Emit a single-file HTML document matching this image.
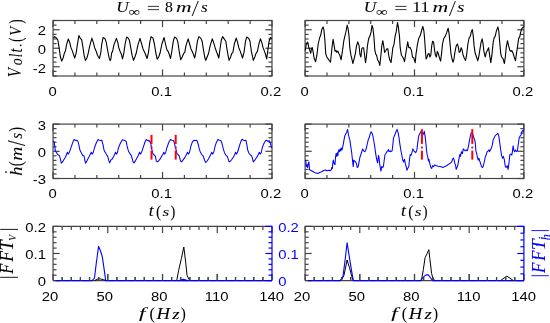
<!DOCTYPE html>
<html><head><meta charset="utf-8"><style>
html,body{margin:0;padding:0;background:#fff;overflow:hidden;}
svg{display:block;will-change:transform;}
</style></head><body>
<svg width="550" height="323" viewBox="0 0 550 323">
<rect width="550" height="323" fill="#fff"/>
<line x1="53.05" y1="76.00" x2="53.05" y2="69.40" stroke="#444" stroke-width="1.2" />
<line x1="53.05" y1="20.50" x2="53.05" y2="27.10" stroke="#444" stroke-width="1.2" />
<line x1="74.94" y1="76.00" x2="74.94" y2="72.50" stroke="#444" stroke-width="1.2" />
<line x1="74.94" y1="20.50" x2="74.94" y2="24.00" stroke="#444" stroke-width="1.2" />
<line x1="96.84" y1="76.00" x2="96.84" y2="72.50" stroke="#444" stroke-width="1.2" />
<line x1="96.84" y1="20.50" x2="96.84" y2="24.00" stroke="#444" stroke-width="1.2" />
<line x1="118.73" y1="76.00" x2="118.73" y2="72.50" stroke="#444" stroke-width="1.2" />
<line x1="118.73" y1="20.50" x2="118.73" y2="24.00" stroke="#444" stroke-width="1.2" />
<line x1="140.63" y1="76.00" x2="140.63" y2="72.50" stroke="#444" stroke-width="1.2" />
<line x1="140.63" y1="20.50" x2="140.63" y2="24.00" stroke="#444" stroke-width="1.2" />
<line x1="162.52" y1="76.00" x2="162.52" y2="69.40" stroke="#444" stroke-width="1.2" />
<line x1="162.52" y1="20.50" x2="162.52" y2="27.10" stroke="#444" stroke-width="1.2" />
<line x1="184.42" y1="76.00" x2="184.42" y2="72.50" stroke="#444" stroke-width="1.2" />
<line x1="184.42" y1="20.50" x2="184.42" y2="24.00" stroke="#444" stroke-width="1.2" />
<line x1="206.31" y1="76.00" x2="206.31" y2="72.50" stroke="#444" stroke-width="1.2" />
<line x1="206.31" y1="20.50" x2="206.31" y2="24.00" stroke="#444" stroke-width="1.2" />
<line x1="228.21" y1="76.00" x2="228.21" y2="72.50" stroke="#444" stroke-width="1.2" />
<line x1="228.21" y1="20.50" x2="228.21" y2="24.00" stroke="#444" stroke-width="1.2" />
<line x1="250.10" y1="76.00" x2="250.10" y2="72.50" stroke="#444" stroke-width="1.2" />
<line x1="250.10" y1="20.50" x2="250.10" y2="24.00" stroke="#444" stroke-width="1.2" />
<line x1="272.00" y1="76.00" x2="272.00" y2="69.40" stroke="#444" stroke-width="1.2" />
<line x1="272.00" y1="20.50" x2="272.00" y2="27.10" stroke="#444" stroke-width="1.2" />
<line x1="53.05" y1="76.00" x2="56.55" y2="76.00" stroke="#444" stroke-width="1.2" />
<line x1="272.00" y1="76.00" x2="268.50" y2="76.00" stroke="#444" stroke-width="1.2" />
<line x1="53.05" y1="71.38" x2="56.55" y2="71.38" stroke="#444" stroke-width="1.2" />
<line x1="272.00" y1="71.38" x2="268.50" y2="71.38" stroke="#444" stroke-width="1.2" />
<line x1="53.05" y1="66.75" x2="59.65" y2="66.75" stroke="#444" stroke-width="1.2" />
<line x1="272.00" y1="66.75" x2="265.40" y2="66.75" stroke="#444" stroke-width="1.2" />
<line x1="53.05" y1="62.12" x2="56.55" y2="62.12" stroke="#444" stroke-width="1.2" />
<line x1="272.00" y1="62.12" x2="268.50" y2="62.12" stroke="#444" stroke-width="1.2" />
<line x1="53.05" y1="57.50" x2="56.55" y2="57.50" stroke="#444" stroke-width="1.2" />
<line x1="272.00" y1="57.50" x2="268.50" y2="57.50" stroke="#444" stroke-width="1.2" />
<line x1="53.05" y1="52.88" x2="56.55" y2="52.88" stroke="#444" stroke-width="1.2" />
<line x1="272.00" y1="52.88" x2="268.50" y2="52.88" stroke="#444" stroke-width="1.2" />
<line x1="53.05" y1="48.25" x2="59.65" y2="48.25" stroke="#444" stroke-width="1.2" />
<line x1="272.00" y1="48.25" x2="265.40" y2="48.25" stroke="#444" stroke-width="1.2" />
<line x1="53.05" y1="43.62" x2="56.55" y2="43.62" stroke="#444" stroke-width="1.2" />
<line x1="272.00" y1="43.62" x2="268.50" y2="43.62" stroke="#444" stroke-width="1.2" />
<line x1="53.05" y1="39.00" x2="56.55" y2="39.00" stroke="#444" stroke-width="1.2" />
<line x1="272.00" y1="39.00" x2="268.50" y2="39.00" stroke="#444" stroke-width="1.2" />
<line x1="53.05" y1="34.38" x2="56.55" y2="34.38" stroke="#444" stroke-width="1.2" />
<line x1="272.00" y1="34.38" x2="268.50" y2="34.38" stroke="#444" stroke-width="1.2" />
<line x1="53.05" y1="29.75" x2="59.65" y2="29.75" stroke="#444" stroke-width="1.2" />
<line x1="272.00" y1="29.75" x2="265.40" y2="29.75" stroke="#444" stroke-width="1.2" />
<line x1="53.05" y1="25.12" x2="56.55" y2="25.12" stroke="#444" stroke-width="1.2" />
<line x1="272.00" y1="25.12" x2="268.50" y2="25.12" stroke="#444" stroke-width="1.2" />
<line x1="53.05" y1="20.50" x2="56.55" y2="20.50" stroke="#444" stroke-width="1.2" />
<line x1="272.00" y1="20.50" x2="268.50" y2="20.50" stroke="#444" stroke-width="1.2" />
<rect x="53.05" y="20.5" width="218.95" height="55.5" fill="none" stroke="#444" stroke-width="1.2"/>
<line x1="53.05" y1="178.50" x2="53.05" y2="171.90" stroke="#444" stroke-width="1.2" />
<line x1="53.05" y1="124.10" x2="53.05" y2="130.70" stroke="#444" stroke-width="1.2" />
<line x1="74.94" y1="178.50" x2="74.94" y2="175.00" stroke="#444" stroke-width="1.2" />
<line x1="74.94" y1="124.10" x2="74.94" y2="127.60" stroke="#444" stroke-width="1.2" />
<line x1="96.84" y1="178.50" x2="96.84" y2="175.00" stroke="#444" stroke-width="1.2" />
<line x1="96.84" y1="124.10" x2="96.84" y2="127.60" stroke="#444" stroke-width="1.2" />
<line x1="118.73" y1="178.50" x2="118.73" y2="175.00" stroke="#444" stroke-width="1.2" />
<line x1="118.73" y1="124.10" x2="118.73" y2="127.60" stroke="#444" stroke-width="1.2" />
<line x1="140.63" y1="178.50" x2="140.63" y2="175.00" stroke="#444" stroke-width="1.2" />
<line x1="140.63" y1="124.10" x2="140.63" y2="127.60" stroke="#444" stroke-width="1.2" />
<line x1="162.52" y1="178.50" x2="162.52" y2="171.90" stroke="#444" stroke-width="1.2" />
<line x1="162.52" y1="124.10" x2="162.52" y2="130.70" stroke="#444" stroke-width="1.2" />
<line x1="184.42" y1="178.50" x2="184.42" y2="175.00" stroke="#444" stroke-width="1.2" />
<line x1="184.42" y1="124.10" x2="184.42" y2="127.60" stroke="#444" stroke-width="1.2" />
<line x1="206.31" y1="178.50" x2="206.31" y2="175.00" stroke="#444" stroke-width="1.2" />
<line x1="206.31" y1="124.10" x2="206.31" y2="127.60" stroke="#444" stroke-width="1.2" />
<line x1="228.21" y1="178.50" x2="228.21" y2="175.00" stroke="#444" stroke-width="1.2" />
<line x1="228.21" y1="124.10" x2="228.21" y2="127.60" stroke="#444" stroke-width="1.2" />
<line x1="250.10" y1="178.50" x2="250.10" y2="175.00" stroke="#444" stroke-width="1.2" />
<line x1="250.10" y1="124.10" x2="250.10" y2="127.60" stroke="#444" stroke-width="1.2" />
<line x1="272.00" y1="178.50" x2="272.00" y2="171.90" stroke="#444" stroke-width="1.2" />
<line x1="272.00" y1="124.10" x2="272.00" y2="130.70" stroke="#444" stroke-width="1.2" />
<line x1="53.05" y1="178.50" x2="59.65" y2="178.50" stroke="#444" stroke-width="1.2" />
<line x1="272.00" y1="178.50" x2="265.40" y2="178.50" stroke="#444" stroke-width="1.2" />
<line x1="53.05" y1="173.97" x2="56.55" y2="173.97" stroke="#444" stroke-width="1.2" />
<line x1="272.00" y1="173.97" x2="268.50" y2="173.97" stroke="#444" stroke-width="1.2" />
<line x1="53.05" y1="169.43" x2="56.55" y2="169.43" stroke="#444" stroke-width="1.2" />
<line x1="272.00" y1="169.43" x2="268.50" y2="169.43" stroke="#444" stroke-width="1.2" />
<line x1="53.05" y1="164.90" x2="56.55" y2="164.90" stroke="#444" stroke-width="1.2" />
<line x1="272.00" y1="164.90" x2="268.50" y2="164.90" stroke="#444" stroke-width="1.2" />
<line x1="53.05" y1="160.37" x2="56.55" y2="160.37" stroke="#444" stroke-width="1.2" />
<line x1="272.00" y1="160.37" x2="268.50" y2="160.37" stroke="#444" stroke-width="1.2" />
<line x1="53.05" y1="155.83" x2="56.55" y2="155.83" stroke="#444" stroke-width="1.2" />
<line x1="272.00" y1="155.83" x2="268.50" y2="155.83" stroke="#444" stroke-width="1.2" />
<line x1="53.05" y1="151.30" x2="59.65" y2="151.30" stroke="#444" stroke-width="1.2" />
<line x1="272.00" y1="151.30" x2="265.40" y2="151.30" stroke="#444" stroke-width="1.2" />
<line x1="53.05" y1="146.77" x2="56.55" y2="146.77" stroke="#444" stroke-width="1.2" />
<line x1="272.00" y1="146.77" x2="268.50" y2="146.77" stroke="#444" stroke-width="1.2" />
<line x1="53.05" y1="142.23" x2="56.55" y2="142.23" stroke="#444" stroke-width="1.2" />
<line x1="272.00" y1="142.23" x2="268.50" y2="142.23" stroke="#444" stroke-width="1.2" />
<line x1="53.05" y1="137.70" x2="56.55" y2="137.70" stroke="#444" stroke-width="1.2" />
<line x1="272.00" y1="137.70" x2="268.50" y2="137.70" stroke="#444" stroke-width="1.2" />
<line x1="53.05" y1="133.17" x2="56.55" y2="133.17" stroke="#444" stroke-width="1.2" />
<line x1="272.00" y1="133.17" x2="268.50" y2="133.17" stroke="#444" stroke-width="1.2" />
<line x1="53.05" y1="128.63" x2="56.55" y2="128.63" stroke="#444" stroke-width="1.2" />
<line x1="272.00" y1="128.63" x2="268.50" y2="128.63" stroke="#444" stroke-width="1.2" />
<line x1="53.05" y1="124.10" x2="59.65" y2="124.10" stroke="#444" stroke-width="1.2" />
<line x1="272.00" y1="124.10" x2="265.40" y2="124.10" stroke="#444" stroke-width="1.2" />
<rect x="53.05" y="124.1" width="218.95" height="54.400000000000006" fill="none" stroke="#444" stroke-width="1.2"/>
<line x1="305.10" y1="76.00" x2="305.10" y2="69.40" stroke="#444" stroke-width="1.2" />
<line x1="305.10" y1="20.50" x2="305.10" y2="27.10" stroke="#444" stroke-width="1.2" />
<line x1="326.98" y1="76.00" x2="326.98" y2="72.50" stroke="#444" stroke-width="1.2" />
<line x1="326.98" y1="20.50" x2="326.98" y2="24.00" stroke="#444" stroke-width="1.2" />
<line x1="348.86" y1="76.00" x2="348.86" y2="72.50" stroke="#444" stroke-width="1.2" />
<line x1="348.86" y1="20.50" x2="348.86" y2="24.00" stroke="#444" stroke-width="1.2" />
<line x1="370.74" y1="76.00" x2="370.74" y2="72.50" stroke="#444" stroke-width="1.2" />
<line x1="370.74" y1="20.50" x2="370.74" y2="24.00" stroke="#444" stroke-width="1.2" />
<line x1="392.62" y1="76.00" x2="392.62" y2="72.50" stroke="#444" stroke-width="1.2" />
<line x1="392.62" y1="20.50" x2="392.62" y2="24.00" stroke="#444" stroke-width="1.2" />
<line x1="414.50" y1="76.00" x2="414.50" y2="69.40" stroke="#444" stroke-width="1.2" />
<line x1="414.50" y1="20.50" x2="414.50" y2="27.10" stroke="#444" stroke-width="1.2" />
<line x1="436.38" y1="76.00" x2="436.38" y2="72.50" stroke="#444" stroke-width="1.2" />
<line x1="436.38" y1="20.50" x2="436.38" y2="24.00" stroke="#444" stroke-width="1.2" />
<line x1="458.26" y1="76.00" x2="458.26" y2="72.50" stroke="#444" stroke-width="1.2" />
<line x1="458.26" y1="20.50" x2="458.26" y2="24.00" stroke="#444" stroke-width="1.2" />
<line x1="480.14" y1="76.00" x2="480.14" y2="72.50" stroke="#444" stroke-width="1.2" />
<line x1="480.14" y1="20.50" x2="480.14" y2="24.00" stroke="#444" stroke-width="1.2" />
<line x1="502.02" y1="76.00" x2="502.02" y2="72.50" stroke="#444" stroke-width="1.2" />
<line x1="502.02" y1="20.50" x2="502.02" y2="24.00" stroke="#444" stroke-width="1.2" />
<line x1="523.90" y1="76.00" x2="523.90" y2="69.40" stroke="#444" stroke-width="1.2" />
<line x1="523.90" y1="20.50" x2="523.90" y2="27.10" stroke="#444" stroke-width="1.2" />
<line x1="305.10" y1="76.00" x2="308.60" y2="76.00" stroke="#444" stroke-width="1.2" />
<line x1="523.90" y1="76.00" x2="520.40" y2="76.00" stroke="#444" stroke-width="1.2" />
<line x1="305.10" y1="71.38" x2="308.60" y2="71.38" stroke="#444" stroke-width="1.2" />
<line x1="523.90" y1="71.38" x2="520.40" y2="71.38" stroke="#444" stroke-width="1.2" />
<line x1="305.10" y1="66.75" x2="311.70" y2="66.75" stroke="#444" stroke-width="1.2" />
<line x1="523.90" y1="66.75" x2="517.30" y2="66.75" stroke="#444" stroke-width="1.2" />
<line x1="305.10" y1="62.12" x2="308.60" y2="62.12" stroke="#444" stroke-width="1.2" />
<line x1="523.90" y1="62.12" x2="520.40" y2="62.12" stroke="#444" stroke-width="1.2" />
<line x1="305.10" y1="57.50" x2="308.60" y2="57.50" stroke="#444" stroke-width="1.2" />
<line x1="523.90" y1="57.50" x2="520.40" y2="57.50" stroke="#444" stroke-width="1.2" />
<line x1="305.10" y1="52.88" x2="308.60" y2="52.88" stroke="#444" stroke-width="1.2" />
<line x1="523.90" y1="52.88" x2="520.40" y2="52.88" stroke="#444" stroke-width="1.2" />
<line x1="305.10" y1="48.25" x2="311.70" y2="48.25" stroke="#444" stroke-width="1.2" />
<line x1="523.90" y1="48.25" x2="517.30" y2="48.25" stroke="#444" stroke-width="1.2" />
<line x1="305.10" y1="43.62" x2="308.60" y2="43.62" stroke="#444" stroke-width="1.2" />
<line x1="523.90" y1="43.62" x2="520.40" y2="43.62" stroke="#444" stroke-width="1.2" />
<line x1="305.10" y1="39.00" x2="308.60" y2="39.00" stroke="#444" stroke-width="1.2" />
<line x1="523.90" y1="39.00" x2="520.40" y2="39.00" stroke="#444" stroke-width="1.2" />
<line x1="305.10" y1="34.38" x2="308.60" y2="34.38" stroke="#444" stroke-width="1.2" />
<line x1="523.90" y1="34.38" x2="520.40" y2="34.38" stroke="#444" stroke-width="1.2" />
<line x1="305.10" y1="29.75" x2="311.70" y2="29.75" stroke="#444" stroke-width="1.2" />
<line x1="523.90" y1="29.75" x2="517.30" y2="29.75" stroke="#444" stroke-width="1.2" />
<line x1="305.10" y1="25.12" x2="308.60" y2="25.12" stroke="#444" stroke-width="1.2" />
<line x1="523.90" y1="25.12" x2="520.40" y2="25.12" stroke="#444" stroke-width="1.2" />
<line x1="305.10" y1="20.50" x2="308.60" y2="20.50" stroke="#444" stroke-width="1.2" />
<line x1="523.90" y1="20.50" x2="520.40" y2="20.50" stroke="#444" stroke-width="1.2" />
<rect x="305.1" y="20.5" width="218.79999999999995" height="55.5" fill="none" stroke="#444" stroke-width="1.2"/>
<line x1="305.10" y1="178.50" x2="305.10" y2="171.90" stroke="#444" stroke-width="1.2" />
<line x1="305.10" y1="124.10" x2="305.10" y2="130.70" stroke="#444" stroke-width="1.2" />
<line x1="326.98" y1="178.50" x2="326.98" y2="175.00" stroke="#444" stroke-width="1.2" />
<line x1="326.98" y1="124.10" x2="326.98" y2="127.60" stroke="#444" stroke-width="1.2" />
<line x1="348.86" y1="178.50" x2="348.86" y2="175.00" stroke="#444" stroke-width="1.2" />
<line x1="348.86" y1="124.10" x2="348.86" y2="127.60" stroke="#444" stroke-width="1.2" />
<line x1="370.74" y1="178.50" x2="370.74" y2="175.00" stroke="#444" stroke-width="1.2" />
<line x1="370.74" y1="124.10" x2="370.74" y2="127.60" stroke="#444" stroke-width="1.2" />
<line x1="392.62" y1="178.50" x2="392.62" y2="175.00" stroke="#444" stroke-width="1.2" />
<line x1="392.62" y1="124.10" x2="392.62" y2="127.60" stroke="#444" stroke-width="1.2" />
<line x1="414.50" y1="178.50" x2="414.50" y2="171.90" stroke="#444" stroke-width="1.2" />
<line x1="414.50" y1="124.10" x2="414.50" y2="130.70" stroke="#444" stroke-width="1.2" />
<line x1="436.38" y1="178.50" x2="436.38" y2="175.00" stroke="#444" stroke-width="1.2" />
<line x1="436.38" y1="124.10" x2="436.38" y2="127.60" stroke="#444" stroke-width="1.2" />
<line x1="458.26" y1="178.50" x2="458.26" y2="175.00" stroke="#444" stroke-width="1.2" />
<line x1="458.26" y1="124.10" x2="458.26" y2="127.60" stroke="#444" stroke-width="1.2" />
<line x1="480.14" y1="178.50" x2="480.14" y2="175.00" stroke="#444" stroke-width="1.2" />
<line x1="480.14" y1="124.10" x2="480.14" y2="127.60" stroke="#444" stroke-width="1.2" />
<line x1="502.02" y1="178.50" x2="502.02" y2="175.00" stroke="#444" stroke-width="1.2" />
<line x1="502.02" y1="124.10" x2="502.02" y2="127.60" stroke="#444" stroke-width="1.2" />
<line x1="523.90" y1="178.50" x2="523.90" y2="171.90" stroke="#444" stroke-width="1.2" />
<line x1="523.90" y1="124.10" x2="523.90" y2="130.70" stroke="#444" stroke-width="1.2" />
<line x1="305.10" y1="178.50" x2="311.70" y2="178.50" stroke="#444" stroke-width="1.2" />
<line x1="523.90" y1="178.50" x2="517.30" y2="178.50" stroke="#444" stroke-width="1.2" />
<line x1="305.10" y1="173.97" x2="308.60" y2="173.97" stroke="#444" stroke-width="1.2" />
<line x1="523.90" y1="173.97" x2="520.40" y2="173.97" stroke="#444" stroke-width="1.2" />
<line x1="305.10" y1="169.43" x2="308.60" y2="169.43" stroke="#444" stroke-width="1.2" />
<line x1="523.90" y1="169.43" x2="520.40" y2="169.43" stroke="#444" stroke-width="1.2" />
<line x1="305.10" y1="164.90" x2="308.60" y2="164.90" stroke="#444" stroke-width="1.2" />
<line x1="523.90" y1="164.90" x2="520.40" y2="164.90" stroke="#444" stroke-width="1.2" />
<line x1="305.10" y1="160.37" x2="308.60" y2="160.37" stroke="#444" stroke-width="1.2" />
<line x1="523.90" y1="160.37" x2="520.40" y2="160.37" stroke="#444" stroke-width="1.2" />
<line x1="305.10" y1="155.83" x2="308.60" y2="155.83" stroke="#444" stroke-width="1.2" />
<line x1="523.90" y1="155.83" x2="520.40" y2="155.83" stroke="#444" stroke-width="1.2" />
<line x1="305.10" y1="151.30" x2="311.70" y2="151.30" stroke="#444" stroke-width="1.2" />
<line x1="523.90" y1="151.30" x2="517.30" y2="151.30" stroke="#444" stroke-width="1.2" />
<line x1="305.10" y1="146.77" x2="308.60" y2="146.77" stroke="#444" stroke-width="1.2" />
<line x1="523.90" y1="146.77" x2="520.40" y2="146.77" stroke="#444" stroke-width="1.2" />
<line x1="305.10" y1="142.23" x2="308.60" y2="142.23" stroke="#444" stroke-width="1.2" />
<line x1="523.90" y1="142.23" x2="520.40" y2="142.23" stroke="#444" stroke-width="1.2" />
<line x1="305.10" y1="137.70" x2="308.60" y2="137.70" stroke="#444" stroke-width="1.2" />
<line x1="523.90" y1="137.70" x2="520.40" y2="137.70" stroke="#444" stroke-width="1.2" />
<line x1="305.10" y1="133.17" x2="308.60" y2="133.17" stroke="#444" stroke-width="1.2" />
<line x1="523.90" y1="133.17" x2="520.40" y2="133.17" stroke="#444" stroke-width="1.2" />
<line x1="305.10" y1="128.63" x2="308.60" y2="128.63" stroke="#444" stroke-width="1.2" />
<line x1="523.90" y1="128.63" x2="520.40" y2="128.63" stroke="#444" stroke-width="1.2" />
<line x1="305.10" y1="124.10" x2="311.70" y2="124.10" stroke="#444" stroke-width="1.2" />
<line x1="523.90" y1="124.10" x2="517.30" y2="124.10" stroke="#444" stroke-width="1.2" />
<rect x="305.1" y="124.1" width="218.79999999999995" height="54.400000000000006" fill="none" stroke="#444" stroke-width="1.2"/>
<line x1="53.05" y1="280.60" x2="53.05" y2="274.00" stroke="#444" stroke-width="1.2" />
<line x1="53.05" y1="226.40" x2="53.05" y2="233.00" stroke="#444" stroke-width="1.2" />
<line x1="62.17" y1="280.60" x2="62.17" y2="277.10" stroke="#444" stroke-width="1.2" />
<line x1="62.17" y1="226.40" x2="62.17" y2="229.90" stroke="#444" stroke-width="1.2" />
<line x1="71.30" y1="280.60" x2="71.30" y2="277.10" stroke="#444" stroke-width="1.2" />
<line x1="71.30" y1="226.40" x2="71.30" y2="229.90" stroke="#444" stroke-width="1.2" />
<line x1="80.42" y1="280.60" x2="80.42" y2="277.10" stroke="#444" stroke-width="1.2" />
<line x1="80.42" y1="226.40" x2="80.42" y2="229.90" stroke="#444" stroke-width="1.2" />
<line x1="89.54" y1="280.60" x2="89.54" y2="277.10" stroke="#444" stroke-width="1.2" />
<line x1="89.54" y1="226.40" x2="89.54" y2="229.90" stroke="#444" stroke-width="1.2" />
<line x1="98.66" y1="280.60" x2="98.66" y2="277.10" stroke="#444" stroke-width="1.2" />
<line x1="98.66" y1="226.40" x2="98.66" y2="229.90" stroke="#444" stroke-width="1.2" />
<line x1="107.79" y1="280.60" x2="107.79" y2="274.00" stroke="#444" stroke-width="1.2" />
<line x1="107.79" y1="226.40" x2="107.79" y2="233.00" stroke="#444" stroke-width="1.2" />
<line x1="116.91" y1="280.60" x2="116.91" y2="277.10" stroke="#444" stroke-width="1.2" />
<line x1="116.91" y1="226.40" x2="116.91" y2="229.90" stroke="#444" stroke-width="1.2" />
<line x1="126.03" y1="280.60" x2="126.03" y2="277.10" stroke="#444" stroke-width="1.2" />
<line x1="126.03" y1="226.40" x2="126.03" y2="229.90" stroke="#444" stroke-width="1.2" />
<line x1="135.16" y1="280.60" x2="135.16" y2="277.10" stroke="#444" stroke-width="1.2" />
<line x1="135.16" y1="226.40" x2="135.16" y2="229.90" stroke="#444" stroke-width="1.2" />
<line x1="144.28" y1="280.60" x2="144.28" y2="277.10" stroke="#444" stroke-width="1.2" />
<line x1="144.28" y1="226.40" x2="144.28" y2="229.90" stroke="#444" stroke-width="1.2" />
<line x1="153.40" y1="280.60" x2="153.40" y2="277.10" stroke="#444" stroke-width="1.2" />
<line x1="153.40" y1="226.40" x2="153.40" y2="229.90" stroke="#444" stroke-width="1.2" />
<line x1="162.52" y1="280.60" x2="162.52" y2="274.00" stroke="#444" stroke-width="1.2" />
<line x1="162.52" y1="226.40" x2="162.52" y2="233.00" stroke="#444" stroke-width="1.2" />
<line x1="171.65" y1="280.60" x2="171.65" y2="277.10" stroke="#444" stroke-width="1.2" />
<line x1="171.65" y1="226.40" x2="171.65" y2="229.90" stroke="#444" stroke-width="1.2" />
<line x1="180.77" y1="280.60" x2="180.77" y2="277.10" stroke="#444" stroke-width="1.2" />
<line x1="180.77" y1="226.40" x2="180.77" y2="229.90" stroke="#444" stroke-width="1.2" />
<line x1="189.89" y1="280.60" x2="189.89" y2="277.10" stroke="#444" stroke-width="1.2" />
<line x1="189.89" y1="226.40" x2="189.89" y2="229.90" stroke="#444" stroke-width="1.2" />
<line x1="199.02" y1="280.60" x2="199.02" y2="277.10" stroke="#444" stroke-width="1.2" />
<line x1="199.02" y1="226.40" x2="199.02" y2="229.90" stroke="#444" stroke-width="1.2" />
<line x1="208.14" y1="280.60" x2="208.14" y2="277.10" stroke="#444" stroke-width="1.2" />
<line x1="208.14" y1="226.40" x2="208.14" y2="229.90" stroke="#444" stroke-width="1.2" />
<line x1="217.26" y1="280.60" x2="217.26" y2="274.00" stroke="#444" stroke-width="1.2" />
<line x1="217.26" y1="226.40" x2="217.26" y2="233.00" stroke="#444" stroke-width="1.2" />
<line x1="226.39" y1="280.60" x2="226.39" y2="277.10" stroke="#444" stroke-width="1.2" />
<line x1="226.39" y1="226.40" x2="226.39" y2="229.90" stroke="#444" stroke-width="1.2" />
<line x1="235.51" y1="280.60" x2="235.51" y2="277.10" stroke="#444" stroke-width="1.2" />
<line x1="235.51" y1="226.40" x2="235.51" y2="229.90" stroke="#444" stroke-width="1.2" />
<line x1="244.63" y1="280.60" x2="244.63" y2="277.10" stroke="#444" stroke-width="1.2" />
<line x1="244.63" y1="226.40" x2="244.63" y2="229.90" stroke="#444" stroke-width="1.2" />
<line x1="253.75" y1="280.60" x2="253.75" y2="277.10" stroke="#444" stroke-width="1.2" />
<line x1="253.75" y1="226.40" x2="253.75" y2="229.90" stroke="#444" stroke-width="1.2" />
<line x1="262.88" y1="280.60" x2="262.88" y2="277.10" stroke="#444" stroke-width="1.2" />
<line x1="262.88" y1="226.40" x2="262.88" y2="229.90" stroke="#444" stroke-width="1.2" />
<line x1="272.00" y1="280.60" x2="272.00" y2="274.00" stroke="#444" stroke-width="1.2" />
<line x1="272.00" y1="226.40" x2="272.00" y2="233.00" stroke="#444" stroke-width="1.2" />
<line x1="53.05" y1="280.60" x2="59.65" y2="280.60" stroke="#444" stroke-width="1.2" />
<line x1="53.05" y1="275.18" x2="56.55" y2="275.18" stroke="#444" stroke-width="1.2" />
<line x1="53.05" y1="269.76" x2="56.55" y2="269.76" stroke="#444" stroke-width="1.2" />
<line x1="53.05" y1="264.34" x2="56.55" y2="264.34" stroke="#444" stroke-width="1.2" />
<line x1="53.05" y1="258.92" x2="56.55" y2="258.92" stroke="#444" stroke-width="1.2" />
<line x1="53.05" y1="253.50" x2="59.65" y2="253.50" stroke="#444" stroke-width="1.2" />
<line x1="53.05" y1="248.08" x2="56.55" y2="248.08" stroke="#444" stroke-width="1.2" />
<line x1="53.05" y1="242.66" x2="56.55" y2="242.66" stroke="#444" stroke-width="1.2" />
<line x1="53.05" y1="237.24" x2="56.55" y2="237.24" stroke="#444" stroke-width="1.2" />
<line x1="53.05" y1="231.82" x2="56.55" y2="231.82" stroke="#444" stroke-width="1.2" />
<line x1="53.05" y1="226.40" x2="59.65" y2="226.40" stroke="#444" stroke-width="1.2" />
<line x1="272.00" y1="280.60" x2="265.40" y2="280.60" stroke="#0000ff" stroke-width="1.2" />
<line x1="272.00" y1="275.18" x2="268.50" y2="275.18" stroke="#0000ff" stroke-width="1.2" />
<line x1="272.00" y1="269.76" x2="268.50" y2="269.76" stroke="#0000ff" stroke-width="1.2" />
<line x1="272.00" y1="264.34" x2="268.50" y2="264.34" stroke="#0000ff" stroke-width="1.2" />
<line x1="272.00" y1="258.92" x2="268.50" y2="258.92" stroke="#0000ff" stroke-width="1.2" />
<line x1="272.00" y1="253.50" x2="265.40" y2="253.50" stroke="#0000ff" stroke-width="1.2" />
<line x1="272.00" y1="248.08" x2="268.50" y2="248.08" stroke="#0000ff" stroke-width="1.2" />
<line x1="272.00" y1="242.66" x2="268.50" y2="242.66" stroke="#0000ff" stroke-width="1.2" />
<line x1="272.00" y1="237.24" x2="268.50" y2="237.24" stroke="#0000ff" stroke-width="1.2" />
<line x1="272.00" y1="231.82" x2="268.50" y2="231.82" stroke="#0000ff" stroke-width="1.2" />
<line x1="272.00" y1="226.40" x2="265.40" y2="226.40" stroke="#0000ff" stroke-width="1.2" />
<line x1="53.05" y1="226.40" x2="53.05" y2="280.60" stroke="#444" stroke-width="1.2" />
<line x1="52.55" y1="226.40" x2="265.00" y2="226.40" stroke="#444" stroke-width="1.2" />
<line x1="265.00" y1="226.40" x2="272.50" y2="226.40" stroke="#0000ff" stroke-width="1.2" />
<line x1="272.00" y1="226.40" x2="272.00" y2="280.60" stroke="#0000ff" stroke-width="1.2" />
<line x1="53.05" y1="280.60" x2="272.00" y2="280.60" stroke="#444" stroke-width="1.2" />
<line x1="305.10" y1="280.60" x2="305.10" y2="274.00" stroke="#444" stroke-width="1.2" />
<line x1="305.10" y1="226.40" x2="305.10" y2="233.00" stroke="#444" stroke-width="1.2" />
<line x1="314.22" y1="280.60" x2="314.22" y2="277.10" stroke="#444" stroke-width="1.2" />
<line x1="314.22" y1="226.40" x2="314.22" y2="229.90" stroke="#444" stroke-width="1.2" />
<line x1="323.33" y1="280.60" x2="323.33" y2="277.10" stroke="#444" stroke-width="1.2" />
<line x1="323.33" y1="226.40" x2="323.33" y2="229.90" stroke="#444" stroke-width="1.2" />
<line x1="332.45" y1="280.60" x2="332.45" y2="277.10" stroke="#444" stroke-width="1.2" />
<line x1="332.45" y1="226.40" x2="332.45" y2="229.90" stroke="#444" stroke-width="1.2" />
<line x1="341.57" y1="280.60" x2="341.57" y2="277.10" stroke="#444" stroke-width="1.2" />
<line x1="341.57" y1="226.40" x2="341.57" y2="229.90" stroke="#444" stroke-width="1.2" />
<line x1="350.68" y1="280.60" x2="350.68" y2="277.10" stroke="#444" stroke-width="1.2" />
<line x1="350.68" y1="226.40" x2="350.68" y2="229.90" stroke="#444" stroke-width="1.2" />
<line x1="359.80" y1="280.60" x2="359.80" y2="274.00" stroke="#444" stroke-width="1.2" />
<line x1="359.80" y1="226.40" x2="359.80" y2="233.00" stroke="#444" stroke-width="1.2" />
<line x1="368.92" y1="280.60" x2="368.92" y2="277.10" stroke="#444" stroke-width="1.2" />
<line x1="368.92" y1="226.40" x2="368.92" y2="229.90" stroke="#444" stroke-width="1.2" />
<line x1="378.03" y1="280.60" x2="378.03" y2="277.10" stroke="#444" stroke-width="1.2" />
<line x1="378.03" y1="226.40" x2="378.03" y2="229.90" stroke="#444" stroke-width="1.2" />
<line x1="387.15" y1="280.60" x2="387.15" y2="277.10" stroke="#444" stroke-width="1.2" />
<line x1="387.15" y1="226.40" x2="387.15" y2="229.90" stroke="#444" stroke-width="1.2" />
<line x1="396.27" y1="280.60" x2="396.27" y2="277.10" stroke="#444" stroke-width="1.2" />
<line x1="396.27" y1="226.40" x2="396.27" y2="229.90" stroke="#444" stroke-width="1.2" />
<line x1="405.38" y1="280.60" x2="405.38" y2="277.10" stroke="#444" stroke-width="1.2" />
<line x1="405.38" y1="226.40" x2="405.38" y2="229.90" stroke="#444" stroke-width="1.2" />
<line x1="414.50" y1="280.60" x2="414.50" y2="274.00" stroke="#444" stroke-width="1.2" />
<line x1="414.50" y1="226.40" x2="414.50" y2="233.00" stroke="#444" stroke-width="1.2" />
<line x1="423.62" y1="280.60" x2="423.62" y2="277.10" stroke="#444" stroke-width="1.2" />
<line x1="423.62" y1="226.40" x2="423.62" y2="229.90" stroke="#444" stroke-width="1.2" />
<line x1="432.73" y1="280.60" x2="432.73" y2="277.10" stroke="#444" stroke-width="1.2" />
<line x1="432.73" y1="226.40" x2="432.73" y2="229.90" stroke="#444" stroke-width="1.2" />
<line x1="441.85" y1="280.60" x2="441.85" y2="277.10" stroke="#444" stroke-width="1.2" />
<line x1="441.85" y1="226.40" x2="441.85" y2="229.90" stroke="#444" stroke-width="1.2" />
<line x1="450.97" y1="280.60" x2="450.97" y2="277.10" stroke="#444" stroke-width="1.2" />
<line x1="450.97" y1="226.40" x2="450.97" y2="229.90" stroke="#444" stroke-width="1.2" />
<line x1="460.08" y1="280.60" x2="460.08" y2="277.10" stroke="#444" stroke-width="1.2" />
<line x1="460.08" y1="226.40" x2="460.08" y2="229.90" stroke="#444" stroke-width="1.2" />
<line x1="469.20" y1="280.60" x2="469.20" y2="274.00" stroke="#444" stroke-width="1.2" />
<line x1="469.20" y1="226.40" x2="469.20" y2="233.00" stroke="#444" stroke-width="1.2" />
<line x1="478.32" y1="280.60" x2="478.32" y2="277.10" stroke="#444" stroke-width="1.2" />
<line x1="478.32" y1="226.40" x2="478.32" y2="229.90" stroke="#444" stroke-width="1.2" />
<line x1="487.43" y1="280.60" x2="487.43" y2="277.10" stroke="#444" stroke-width="1.2" />
<line x1="487.43" y1="226.40" x2="487.43" y2="229.90" stroke="#444" stroke-width="1.2" />
<line x1="496.55" y1="280.60" x2="496.55" y2="277.10" stroke="#444" stroke-width="1.2" />
<line x1="496.55" y1="226.40" x2="496.55" y2="229.90" stroke="#444" stroke-width="1.2" />
<line x1="505.67" y1="280.60" x2="505.67" y2="277.10" stroke="#444" stroke-width="1.2" />
<line x1="505.67" y1="226.40" x2="505.67" y2="229.90" stroke="#444" stroke-width="1.2" />
<line x1="514.78" y1="280.60" x2="514.78" y2="277.10" stroke="#444" stroke-width="1.2" />
<line x1="514.78" y1="226.40" x2="514.78" y2="229.90" stroke="#444" stroke-width="1.2" />
<line x1="523.90" y1="280.60" x2="523.90" y2="274.00" stroke="#444" stroke-width="1.2" />
<line x1="523.90" y1="226.40" x2="523.90" y2="233.00" stroke="#444" stroke-width="1.2" />
<line x1="305.10" y1="280.60" x2="311.70" y2="280.60" stroke="#444" stroke-width="1.2" />
<line x1="305.10" y1="275.18" x2="308.60" y2="275.18" stroke="#444" stroke-width="1.2" />
<line x1="305.10" y1="269.76" x2="308.60" y2="269.76" stroke="#444" stroke-width="1.2" />
<line x1="305.10" y1="264.34" x2="308.60" y2="264.34" stroke="#444" stroke-width="1.2" />
<line x1="305.10" y1="258.92" x2="308.60" y2="258.92" stroke="#444" stroke-width="1.2" />
<line x1="305.10" y1="253.50" x2="311.70" y2="253.50" stroke="#444" stroke-width="1.2" />
<line x1="305.10" y1="248.08" x2="308.60" y2="248.08" stroke="#444" stroke-width="1.2" />
<line x1="305.10" y1="242.66" x2="308.60" y2="242.66" stroke="#444" stroke-width="1.2" />
<line x1="305.10" y1="237.24" x2="308.60" y2="237.24" stroke="#444" stroke-width="1.2" />
<line x1="305.10" y1="231.82" x2="308.60" y2="231.82" stroke="#444" stroke-width="1.2" />
<line x1="305.10" y1="226.40" x2="311.70" y2="226.40" stroke="#444" stroke-width="1.2" />
<line x1="523.90" y1="280.60" x2="517.30" y2="280.60" stroke="#0000ff" stroke-width="1.2" />
<line x1="523.90" y1="273.83" x2="520.40" y2="273.83" stroke="#0000ff" stroke-width="1.2" />
<line x1="523.90" y1="267.05" x2="520.40" y2="267.05" stroke="#0000ff" stroke-width="1.2" />
<line x1="523.90" y1="260.28" x2="520.40" y2="260.28" stroke="#0000ff" stroke-width="1.2" />
<line x1="523.90" y1="253.50" x2="517.30" y2="253.50" stroke="#0000ff" stroke-width="1.2" />
<line x1="523.90" y1="246.73" x2="520.40" y2="246.73" stroke="#0000ff" stroke-width="1.2" />
<line x1="523.90" y1="239.95" x2="520.40" y2="239.95" stroke="#0000ff" stroke-width="1.2" />
<line x1="523.90" y1="233.18" x2="520.40" y2="233.18" stroke="#0000ff" stroke-width="1.2" />
<line x1="523.90" y1="226.40" x2="517.30" y2="226.40" stroke="#0000ff" stroke-width="1.2" />
<line x1="305.10" y1="226.40" x2="305.10" y2="280.60" stroke="#444" stroke-width="1.2" />
<line x1="304.60" y1="226.40" x2="516.90" y2="226.40" stroke="#444" stroke-width="1.2" />
<line x1="516.90" y1="226.40" x2="524.40" y2="226.40" stroke="#0000ff" stroke-width="1.2" />
<line x1="523.90" y1="226.40" x2="523.90" y2="280.60" stroke="#0000ff" stroke-width="1.2" />
<line x1="305.10" y1="280.60" x2="523.90" y2="280.60" stroke="#444" stroke-width="1.2" />
<polyline points="53.5,38.1 54.8,36.6 56.6,38.1 57.9,40.3 59.1,47.7 60.4,57.0 61.7,61.1 63.1,58.0 64.3,53.3 65.4,51.1 66.5,44.9 68.3,39.0 69.6,42.1 70.9,47.4 72.4,51.1 73.4,54.2 74.7,58.0 76.1,53.3 77.5,44.0 78.9,35.6 80.2,38.1 81.7,39.9 83.0,47.7 84.1,55.2 85.4,60.4 86.9,58.0 88.2,53.3 89.5,46.8 91.9,38.1 93.2,42.1 94.7,47.7 96.2,51.4 97.5,55.2 99.4,58.5 100.7,53.3 101.8,44.0 103.1,37.5 104.9,38.4 106.2,42.1 107.7,50.5 109.0,57.4 110.1,60.7 110.8,59.5 111.7,52.9 112.6,51.4 113.9,44.9 116.4,38.4 117.7,42.1 118.8,47.7 120.1,51.4 121.4,54.2 122.5,58.9 123.8,53.3 125.1,44.0 126.6,37.0 128.1,38.1 129.4,40.3 130.7,47.7 132.1,55.2 133.5,60.4 134.9,57.0 136.2,53.3 137.7,45.9 140.0,38.4 141.4,43.1 142.9,48.7 144.2,51.4 145.5,54.2 147.0,58.5 148.5,52.4 149.8,42.1 151.1,36.6 153.0,38.1 154.4,44.0 155.9,53.3 157.2,59.2 158.5,57.4 160.0,53.3 161.9,44.0 164.1,37.5 165.5,44.0 166.8,49.6 168.1,51.4 169.2,54.2 170.5,58.5 171.8,51.4 173.3,41.2 174.6,37.0 176.6,38.4 177.9,42.1 179.2,51.4 180.7,59.8 182.2,57.0 183.5,53.7 184.8,52.4 185.9,45.9 188.1,38.8 189.6,44.0 190.9,48.7 192.2,51.4 193.4,54.2 194.7,58.0 196.0,51.4 197.4,41.2 198.9,36.6 200.8,38.1 202.1,41.2 203.4,49.6 204.9,58.0 205.8,60.4 207.1,57.0 208.6,53.3 210.1,45.9 212.3,38.8 213.8,43.1 215.1,47.7 216.4,51.4 217.5,54.2 218.8,58.0 220.2,47.7 221.3,40.3 222.6,36.6 224.5,39.4 225.8,41.2 226.9,48.7 228.2,56.1 229.1,60.4 230.6,57.0 231.9,53.3 232.9,52.4 234.3,44.0 236.2,38.1 237.5,42.1 238.8,47.7 240.3,51.4 241.2,54.2 242.5,58.0 244.0,52.4 245.5,41.2 246.8,37.0 248.7,38.4 250.0,41.2 251.4,51.4 253.3,60.4 254.8,57.0 256.1,53.3 257.4,51.4 258.9,44.0 260.4,38.8 261.7,42.1 263.0,47.4 264.4,51.1 265.4,54.2 266.7,58.9 267.8,50.5 269.1,41.2 270.4,37.5 271.9,38.4" fill="none" stroke="#000" stroke-width="1.1" stroke-linejoin="round" />
<polyline points="305.2,50.5 306.3,44.0 307.6,42.1 308.9,47.7 310.1,51.4 310.8,53.3 311.4,48.7 312.3,47.7 313.2,52.4 314.1,58.0 315.6,61.7 316.9,55.2 318.2,44.0 319.7,37.5 320.6,35.6 321.9,29.1 323.1,26.9 323.8,29.1 324.9,40.3 325.7,53.3 326.8,57.0 328.1,58.9 329.4,60.7 330.5,62.2 331.2,55.2 332.4,44.0 333.1,39.4 334.2,45.9 335.0,51.4 336.1,50.5 336.8,52.4 337.9,51.1 338.7,53.3 339.8,55.2 341.1,59.8 342.4,51.4 343.9,40.3 344.8,36.6 346.1,31.0 347.2,25.1 348.0,28.2 349.1,36.6 349.8,47.7 350.9,55.2 351.7,58.0 352.8,63.5 354.1,58.9 355.4,53.3 356.5,45.9 357.8,41.8 359.1,45.9 359.9,54.2 360.9,57.0 361.8,48.7 362.7,47.7 363.6,47.7 364.6,55.2 365.5,62.6 366.4,57.0 367.4,45.9 368.7,38.4 370.1,35.6 371.1,31.9 372.0,25.4 372.9,28.2 373.9,36.6 374.8,49.6 375.7,54.2 376.6,55.2 377.6,59.8 379.1,62.6 379.8,65.4 380.9,55.2 381.8,45.9 382.8,40.7 383.7,45.9 384.6,52.4 385.9,50.5 386.9,48.7 387.8,48.7 388.7,55.2 389.7,59.8 391.0,62.6 392.1,54.2 392.8,47.7 393.9,44.9 395.2,35.6 396.2,31.9 397.5,22.6 398.4,27.3 399.5,36.6 400.2,47.7 401.4,55.2 402.7,57.0 403.6,58.9 404.5,61.7 405.4,56.1 406.4,49.6 407.7,41.8 408.8,47.7 410.1,47.4 411.4,50.5 412.5,57.0 413.8,58.0 415.2,62.8 415.9,55.2 417.2,45.9 418.7,38.4 420.2,35.6 421.5,31.0 422.8,26.4 423.9,31.0 424.7,40.3 425.6,53.3 426.1,58.9 427.1,57.0 428.0,54.2 428.9,53.3 429.9,57.0 430.8,55.2 431.7,45.9 432.6,41.2 433.6,42.1 434.5,49.6 435.4,55.2 436.4,57.0 437.3,51.4 438.2,53.3 439.5,58.0 440.6,61.1 441.6,53.3 442.5,44.0 443.8,38.4 445.1,36.6 446.6,32.9 448.1,28.2 449.0,32.9 449.9,42.1 450.9,53.3 452.2,59.8 453.1,62.2 454.0,58.9 454.9,52.4 456.2,45.9 457.4,44.0 458.3,46.8 459.2,52.4 460.1,51.8 461.1,47.7 462.0,49.6 462.9,54.2 464.2,58.0 465.5,60.4 466.6,55.2 467.9,44.0 469.2,37.5 470.4,36.2 471.5,31.0 472.4,29.6 473.3,36.6 474.1,45.9 475.2,53.3 476.5,57.0 477.8,60.7 478.9,56.1 480.2,47.7 481.1,42.1 482.1,38.8 483.0,43.1 483.9,51.4 485.2,57.0 486.3,52.4 487.3,50.5 488.6,47.7 489.5,54.2 490.8,62.6 491.9,55.2 493.2,42.1 494.2,37.5 495.1,36.6 496.4,31.0 497.9,26.9 498.8,31.0 499.7,42.1 500.7,53.3 501.6,57.0 503.1,58.9 504.4,63.5 505.3,57.0 506.2,47.7 507.5,40.7 508.6,45.9 509.9,50.5 510.9,51.4 511.8,50.5 513.1,53.3 514.2,57.0 515.5,60.7 516.4,54.2 517.6,45.9 518.7,38.4 519.8,36.6 520.5,32.9 521.6,29.1 522.9,27.3 523.9,26.9" fill="none" stroke="#000" stroke-width="1.1" stroke-linejoin="round" />
<polyline points="53.5,140.6 54.2,142.4 54.8,146.1 55.3,150.8 56.6,152.7 57.6,154.5 58.5,155.1 59.4,155.4 60.4,159.2 61.3,163.2 62.8,161.4 64.1,159.2 65.4,157.3 67.4,152.3 68.2,154.1 69.3,152.5 70.2,149.9 71.5,146.1 72.8,142.4 73.9,139.6 75.2,140.2 76.1,140.6 77.1,140.2 78.0,141.5 78.9,145.2 79.9,149.9 80.8,151.7 81.7,153.6 82.7,155.4 84.0,155.8 84.7,159.2 85.4,163.2 86.4,161.9 87.7,159.2 89.2,156.4 90.6,153.6 91.4,152.3 92.2,154.1 93.3,152.5 94.4,148.0 95.7,144.3 97.0,141.5 98.1,139.6 99.4,140.2 100.7,140.6 101.8,140.2 103.1,145.2 104.0,149.9 104.9,151.7 105.9,153.6 106.8,155.1 107.7,156.4 108.7,160.1 109.6,162.9 110.5,161.0 111.4,159.2 112.1,159.2 113.6,156.4 115.6,152.3 116.4,154.1 117.5,152.5 118.2,148.9 119.5,145.2 121.0,142.1 122.5,139.8 123.8,140.2 125.1,140.6 126.2,141.5 126.9,145.2 128.1,149.9 128.8,151.7 129.9,153.6 131.2,155.4 132.1,158.2 133.1,161.9 134.0,162.9 135.5,160.6 136.8,158.2 138.1,155.8 139.6,152.3 140.4,154.1 141.5,152.5 142.4,149.9 143.3,147.1 144.2,144.3 145.2,141.5 146.1,139.6 147.4,140.2 148.5,140.9 149.2,140.6 150.4,142.4 151.1,145.2 151.7,148.9 152.6,152.7 153.5,154.5 154.4,155.1 155.4,156.4 156.3,161.0 157.2,161.9 158.5,161.0 160.0,159.2 161.5,156.4 162.8,154.5 163.8,152.3 164.6,154.1 165.7,152.5 166.8,148.0 168.1,144.3 169.2,141.5 170.5,139.6 171.8,140.2 173.3,140.6 174.2,142.4 175.1,146.1 176.1,149.9 177.0,153.6 177.9,154.5 178.9,155.4 179.8,158.2 180.7,161.4 181.6,161.9 182.9,160.1 184.4,158.2 185.9,155.4 187.6,152.3 188.4,154.1 189.5,152.5 190.9,146.1 192.2,142.4 193.7,140.2 195.2,140.6 196.5,140.2 197.4,141.5 198.4,145.2 199.3,148.9 200.2,151.7 201.2,153.6 202.1,155.1 203.0,155.8 203.9,158.2 204.9,161.0 205.8,162.5 207.1,161.0 208.6,158.8 210.1,155.8 211.8,152.3 212.6,154.1 213.7,152.5 215.1,146.1 216.4,142.4 217.9,139.6 219.5,140.2 220.8,140.6 221.7,142.4 222.6,146.1 223.6,149.9 224.5,152.7 225.8,155.1 227.3,156.4 228.2,159.2 229.1,161.9 230.6,161.0 231.9,159.2 233.2,157.3 234.3,155.4 235.6,152.3 236.4,154.1 237.5,152.5 238.8,148.0 239.9,144.3 241.2,140.6 242.1,139.3 243.6,140.2 244.9,140.6 245.9,140.2 246.8,144.3 247.7,149.9 248.7,152.7 249.6,154.0 250.5,155.1 251.4,155.4 252.4,158.2 253.3,161.9 254.8,160.1 256.1,158.2 257.4,156.4 258.5,154.0 259.4,152.3 260.2,154.1 261.3,152.5 262.2,148.0 263.5,144.3 264.8,142.1 265.9,140.2 267.2,140.6 268.2,141.5 269.1,140.6 270.0,142.4 270.9,145.2 271.9,148.0" fill="none" stroke="#0000ff" stroke-width="1.05" stroke-linejoin="round" />
<polyline points="305.2,160.1 305.8,161.0 306.3,166.6 307.1,165.7 307.6,167.5 308.2,163.8 308.9,161.9 309.5,169.4 310.4,170.3 312.3,171.2 314.1,172.2 316.0,173.1 317.9,173.5 319.7,172.5 321.6,171.8 323.4,170.7 325.3,169.9 327.2,170.7 329.0,170.3 330.5,170.7 331.2,169.9 331.8,167.5 332.4,168.4 332.7,163.8 333.3,160.1 334.2,163.8 335.0,164.7 335.5,157.3 336.1,153.6 336.8,156.4 337.4,152.7 337.9,155.4 338.3,151.7 338.9,149.9 339.6,151.7 340.2,148.9 340.7,150.8 341.3,148.0 342.0,149.9 342.9,146.1 343.9,140.6 344.8,135.9 345.7,134.1 346.7,132.2 347.6,129.4 348.5,135.0 349.4,138.7 350.0,140.6 350.7,146.1 351.7,152.7 352.4,159.2 353.2,166.6 353.7,160.1 354.6,161.0 355.6,161.9 356.5,163.8 357.2,167.5 358.2,166.6 359.1,161.9 359.9,157.3 360.9,154.5 361.8,151.7 362.7,148.9 363.6,150.8 364.6,151.7 365.5,150.8 366.4,148.0 367.4,143.4 368.3,139.6 369.2,137.8 370.1,134.1 371.1,131.7 372.0,133.1 372.9,135.9 373.9,141.5 374.8,147.1 375.7,153.6 376.6,159.2 377.6,162.9 378.5,155.4 379.1,158.2 379.8,164.7 380.9,171.2 381.7,166.6 382.8,167.5 383.5,165.7 384.1,161.0 385.0,154.5 385.9,153.6 386.9,151.7 387.8,150.8 388.4,149.5 389.1,151.7 390.2,150.8 391.0,151.7 392.1,150.8 392.8,145.2 393.4,138.7 394.3,135.9 395.2,134.1 396.2,131.3 397.1,129.4 398.0,132.2 398.9,136.9 399.9,144.3 400.8,149.9 401.7,154.5 402.7,160.1 403.6,161.9 404.5,159.2 405.4,163.8 406.4,167.5 406.9,170.3 407.7,168.4 408.8,166.6 409.5,159.2 410.3,154.5 411.0,155.4 411.9,152.7 412.9,148.9 413.8,150.8 414.7,151.7 415.7,152.7 416.9,149.9 417.8,142.4 418.7,135.9 419.6,134.1 420.6,132.2 421.5,130.9 422.4,133.1 423.4,134.1 424.3,131.3 425.2,136.9 425.8,142.4 426.5,149.9 427.1,154.5 428.0,158.2 428.4,161.0 428.9,159.2 429.9,163.8 430.8,167.5 431.7,168.4 432.6,165.7 433.6,166.6 434.5,165.1 436.4,165.7 438.2,166.2 440.1,166.6 441.9,167.1 442.9,167.5 444.7,166.6 446.6,165.7 448.4,164.4 450.3,163.2 451.8,161.9 452.5,159.2 453.5,158.2 454.4,161.0 454.9,163.8 455.5,164.7 456.2,169.4 457.4,166.6 458.1,163.8 459.2,157.3 460.0,154.5 460.5,156.4 461.4,151.7 462.4,153.6 463.3,148.9 464.2,149.9 465.2,150.8 466.1,149.9 467.4,150.8 468.5,146.1 469.4,140.6 470.4,135.9 470.9,133.5 471.9,132.2 472.8,134.1 473.7,137.8 474.6,139.6 475.2,142.4 475.9,150.8 476.7,153.6 477.4,157.3 478.2,160.1 478.9,158.2 479.7,161.0 480.4,162.9 481.5,166.6 482.6,167.5 483.4,165.7 484.5,161.0 485.2,157.3 486.3,154.5 487.1,151.7 488.2,150.8 488.9,149.9 489.5,151.7 490.4,149.9 491.4,148.0 492.3,145.2 493.2,139.6 494.2,137.8 495.1,135.9 496.0,135.0 496.9,134.1 497.9,133.5 498.8,135.9 499.7,142.4 500.7,149.9 501.6,155.4 502.5,158.2 503.4,156.4 504.4,160.1 505.3,166.6 506.2,167.5 507.2,165.7 508.1,169.4 509.0,162.9 509.9,154.5 510.9,154.0 511.8,155.1 512.4,151.7 513.1,145.8 513.8,149.9 514.6,151.7 515.5,149.9 516.4,151.4 517.4,150.8 518.3,144.3 519.2,137.8 520.2,135.9 521.1,135.0 522.0,131.3 522.9,130.4 523.9,132.2" fill="none" stroke="#0000ff" stroke-width="1.05" stroke-linejoin="round" />
<line x1="151.5" y1="134.9" x2="151.5" y2="143.9" stroke="#ff0000" stroke-width="2"/>
<line x1="151.5" y1="146.6" x2="151.5" y2="148.4" stroke="#ff0000" stroke-width="2"/>
<line x1="151.5" y1="150.7" x2="151.5" y2="159.6" stroke="#ff0000" stroke-width="2"/>
<line x1="175.7" y1="134.9" x2="175.7" y2="143.9" stroke="#ff0000" stroke-width="2"/>
<line x1="175.7" y1="146.6" x2="175.7" y2="148.4" stroke="#ff0000" stroke-width="2"/>
<line x1="175.7" y1="150.7" x2="175.7" y2="159.6" stroke="#ff0000" stroke-width="2"/>
<line x1="421.9" y1="129.2" x2="421.9" y2="143.9" stroke="#ff0000" stroke-width="2"/>
<line x1="421.9" y1="146.6" x2="421.9" y2="148.4" stroke="#ff0000" stroke-width="2"/>
<line x1="421.9" y1="150.7" x2="421.9" y2="159.6" stroke="#ff0000" stroke-width="2"/>
<line x1="472.3" y1="129.2" x2="472.3" y2="143.9" stroke="#ff0000" stroke-width="2"/>
<line x1="472.3" y1="146.6" x2="472.3" y2="148.4" stroke="#ff0000" stroke-width="2"/>
<line x1="472.3" y1="150.7" x2="472.3" y2="159.6" stroke="#ff0000" stroke-width="2"/>
<polyline points="94.5,280.6 98.6,278.6 100.5,279.0 103.5,279.6 105.7,280.6" fill="none" stroke="#000" stroke-width="1.0" stroke-linejoin="round" />
<polyline points="176.7,280.6 178.6,270.6 181.4,258.5 183.8,247.0 185.7,262.2 187.0,275.2 188.3,278.0 189.8,280.6" fill="none" stroke="#000" stroke-width="1.0" stroke-linejoin="round" />
<polyline points="55.5,280.6 92.1,280.6 94.5,278.0 96.4,262.2 98.6,246.4 100.5,251.0 102.3,256.6 104.2,269.7 105.7,280.6 272.0,280.6" fill="none" stroke="#0000ff" stroke-width="1.1" stroke-linejoin="round" />
<polyline points="179.0,280.6 183.3,279.3 187.5,280.6" fill="none" stroke="#0000ff" stroke-width="1.1" stroke-linejoin="round" />
<polyline points="341.2,280.6 344.0,275.2 347.1,260.0 349.5,267.8 352.0,277.1 353.3,280.6" fill="none" stroke="#000" stroke-width="1.0" stroke-linejoin="round" />
<polyline points="421.4,280.6 423.3,269.7 425.1,257.6 427.0,253.8 428.8,249.7 429.8,258.5 431.6,273.4 433.1,279.0 435.3,280.6" fill="none" stroke="#000" stroke-width="1.0" stroke-linejoin="round" />
<polyline points="500.4,280.6 506.9,276.1 513.4,280.6" fill="none" stroke="#000" stroke-width="1.0" stroke-linejoin="round" />
<polyline points="307.9,280.6 340.2,280.6 343.0,276.2 345.3,258.5 347.1,242.7 349.0,254.8 351.4,269.7 353.3,280.6 420.5,280.6 423.3,277.1 426.0,274.9 428.3,274.9 430.7,278.0 432.6,280.6 524.0,280.6" fill="none" stroke="#0000ff" stroke-width="1.1" stroke-linejoin="round" />
<line x1="62.17" y1="280.60" x2="62.17" y2="277.10" stroke="#444" stroke-width="1.2" />
<line x1="71.30" y1="280.60" x2="71.30" y2="277.10" stroke="#444" stroke-width="1.2" />
<line x1="80.42" y1="280.60" x2="80.42" y2="277.10" stroke="#444" stroke-width="1.2" />
<line x1="89.54" y1="280.60" x2="89.54" y2="277.10" stroke="#444" stroke-width="1.2" />
<line x1="98.66" y1="280.60" x2="98.66" y2="277.10" stroke="#444" stroke-width="1.2" />
<line x1="107.79" y1="280.60" x2="107.79" y2="274.00" stroke="#444" stroke-width="1.2" />
<line x1="116.91" y1="280.60" x2="116.91" y2="277.10" stroke="#444" stroke-width="1.2" />
<line x1="126.03" y1="280.60" x2="126.03" y2="277.10" stroke="#444" stroke-width="1.2" />
<line x1="135.16" y1="280.60" x2="135.16" y2="277.10" stroke="#444" stroke-width="1.2" />
<line x1="144.28" y1="280.60" x2="144.28" y2="277.10" stroke="#444" stroke-width="1.2" />
<line x1="153.40" y1="280.60" x2="153.40" y2="277.10" stroke="#444" stroke-width="1.2" />
<line x1="162.52" y1="280.60" x2="162.52" y2="274.00" stroke="#444" stroke-width="1.2" />
<line x1="171.65" y1="280.60" x2="171.65" y2="277.10" stroke="#444" stroke-width="1.2" />
<line x1="180.77" y1="280.60" x2="180.77" y2="277.10" stroke="#444" stroke-width="1.2" />
<line x1="189.89" y1="280.60" x2="189.89" y2="277.10" stroke="#444" stroke-width="1.2" />
<line x1="199.02" y1="280.60" x2="199.02" y2="277.10" stroke="#444" stroke-width="1.2" />
<line x1="208.14" y1="280.60" x2="208.14" y2="277.10" stroke="#444" stroke-width="1.2" />
<line x1="217.26" y1="280.60" x2="217.26" y2="274.00" stroke="#444" stroke-width="1.2" />
<line x1="226.39" y1="280.60" x2="226.39" y2="277.10" stroke="#444" stroke-width="1.2" />
<line x1="235.51" y1="280.60" x2="235.51" y2="277.10" stroke="#444" stroke-width="1.2" />
<line x1="244.63" y1="280.60" x2="244.63" y2="277.10" stroke="#444" stroke-width="1.2" />
<line x1="253.75" y1="280.60" x2="253.75" y2="277.10" stroke="#444" stroke-width="1.2" />
<line x1="262.88" y1="280.60" x2="262.88" y2="277.10" stroke="#444" stroke-width="1.2" />
<line x1="314.22" y1="280.60" x2="314.22" y2="277.10" stroke="#444" stroke-width="1.2" />
<line x1="323.33" y1="280.60" x2="323.33" y2="277.10" stroke="#444" stroke-width="1.2" />
<line x1="332.45" y1="280.60" x2="332.45" y2="277.10" stroke="#444" stroke-width="1.2" />
<line x1="341.57" y1="280.60" x2="341.57" y2="277.10" stroke="#444" stroke-width="1.2" />
<line x1="350.68" y1="280.60" x2="350.68" y2="277.10" stroke="#444" stroke-width="1.2" />
<line x1="359.80" y1="280.60" x2="359.80" y2="274.00" stroke="#444" stroke-width="1.2" />
<line x1="368.92" y1="280.60" x2="368.92" y2="277.10" stroke="#444" stroke-width="1.2" />
<line x1="378.03" y1="280.60" x2="378.03" y2="277.10" stroke="#444" stroke-width="1.2" />
<line x1="387.15" y1="280.60" x2="387.15" y2="277.10" stroke="#444" stroke-width="1.2" />
<line x1="396.27" y1="280.60" x2="396.27" y2="277.10" stroke="#444" stroke-width="1.2" />
<line x1="405.38" y1="280.60" x2="405.38" y2="277.10" stroke="#444" stroke-width="1.2" />
<line x1="414.50" y1="280.60" x2="414.50" y2="274.00" stroke="#444" stroke-width="1.2" />
<line x1="423.62" y1="280.60" x2="423.62" y2="277.10" stroke="#444" stroke-width="1.2" />
<line x1="432.73" y1="280.60" x2="432.73" y2="277.10" stroke="#444" stroke-width="1.2" />
<line x1="441.85" y1="280.60" x2="441.85" y2="277.10" stroke="#444" stroke-width="1.2" />
<line x1="450.97" y1="280.60" x2="450.97" y2="277.10" stroke="#444" stroke-width="1.2" />
<line x1="460.08" y1="280.60" x2="460.08" y2="277.10" stroke="#444" stroke-width="1.2" />
<line x1="469.20" y1="280.60" x2="469.20" y2="274.00" stroke="#444" stroke-width="1.2" />
<line x1="478.32" y1="280.60" x2="478.32" y2="277.10" stroke="#444" stroke-width="1.2" />
<line x1="487.43" y1="280.60" x2="487.43" y2="277.10" stroke="#444" stroke-width="1.2" />
<line x1="496.55" y1="280.60" x2="496.55" y2="277.10" stroke="#444" stroke-width="1.2" />
<line x1="505.67" y1="280.60" x2="505.67" y2="277.10" stroke="#444" stroke-width="1.2" />
<line x1="514.78" y1="280.60" x2="514.78" y2="277.10" stroke="#444" stroke-width="1.2" />
<text transform="translate(48.41,96.20) scale(1.1,1)" font-family="Liberation Sans" font-size="13.5" fill="#000" stroke="#000" stroke-width="0">0</text>
<text transform="translate(48.41,198.20) scale(1.1,1)" font-family="Liberation Sans" font-size="13.5" fill="#000" stroke="#000" stroke-width="0">0</text>
<text transform="translate(151.31,96.20) scale(1.1,1)" font-family="Liberation Sans" font-size="13.5" fill="#000" stroke="#000" stroke-width="0">0.1</text>
<text transform="translate(151.31,198.20) scale(1.1,1)" font-family="Liberation Sans" font-size="13.5" fill="#000" stroke="#000" stroke-width="0">0.1</text>
<text transform="translate(260.51,96.20) scale(1.1,1)" font-family="Liberation Sans" font-size="13.5" fill="#000" stroke="#000" stroke-width="0">0.2</text>
<text transform="translate(260.51,198.20) scale(1.1,1)" font-family="Liberation Sans" font-size="13.5" fill="#000" stroke="#000" stroke-width="0">0.2</text>
<text transform="translate(41.76,301.00) scale(1.1,1)" font-family="Liberation Sans" font-size="13.5" fill="#000" stroke="#000" stroke-width="0">20</text>
<text transform="translate(96.41,301.00) scale(1.1,1)" font-family="Liberation Sans" font-size="13.5" fill="#000" stroke="#000" stroke-width="0">50</text>
<text transform="translate(150.91,301.00) scale(1.1,1)" font-family="Liberation Sans" font-size="13.5" fill="#000" stroke="#000" stroke-width="0">80</text>
<text transform="translate(204.81,301.00) scale(1.1,1)" font-family="Liberation Sans" font-size="13.5" fill="#000" stroke="#000" stroke-width="0">110</text>
<text transform="translate(259.31,301.00) scale(1.1,1)" font-family="Liberation Sans" font-size="13.5" fill="#000" stroke="#000" stroke-width="0">140</text>
<text transform="translate(300.41,96.20) scale(1.1,1)" font-family="Liberation Sans" font-size="13.5" fill="#000" stroke="#000" stroke-width="0">0</text>
<text transform="translate(300.41,198.20) scale(1.1,1)" font-family="Liberation Sans" font-size="13.5" fill="#000" stroke="#000" stroke-width="0">0</text>
<text transform="translate(403.31,96.20) scale(1.1,1)" font-family="Liberation Sans" font-size="13.5" fill="#000" stroke="#000" stroke-width="0">0.1</text>
<text transform="translate(403.31,198.20) scale(1.1,1)" font-family="Liberation Sans" font-size="13.5" fill="#000" stroke="#000" stroke-width="0">0.1</text>
<text transform="translate(512.51,96.20) scale(1.1,1)" font-family="Liberation Sans" font-size="13.5" fill="#000" stroke="#000" stroke-width="0">0.2</text>
<text transform="translate(512.51,198.20) scale(1.1,1)" font-family="Liberation Sans" font-size="13.5" fill="#000" stroke="#000" stroke-width="0">0.2</text>
<text transform="translate(293.76,301.00) scale(1.1,1)" font-family="Liberation Sans" font-size="13.5" fill="#000" stroke="#000" stroke-width="0">20</text>
<text transform="translate(348.41,301.00) scale(1.1,1)" font-family="Liberation Sans" font-size="13.5" fill="#000" stroke="#000" stroke-width="0">50</text>
<text transform="translate(402.91,301.00) scale(1.1,1)" font-family="Liberation Sans" font-size="13.5" fill="#000" stroke="#000" stroke-width="0">80</text>
<text transform="translate(456.81,301.00) scale(1.1,1)" font-family="Liberation Sans" font-size="13.5" fill="#000" stroke="#000" stroke-width="0">110</text>
<text transform="translate(511.31,301.00) scale(1.1,1)" font-family="Liberation Sans" font-size="13.5" fill="#000" stroke="#000" stroke-width="0">140</text>
<text transform="translate(46.00,35.30) scale(1.1,1)" font-family="Liberation Sans" font-size="13.5" fill="#000" stroke="#000" stroke-width="0" text-anchor="end">2</text>
<text transform="translate(46.00,54.20) scale(1.1,1)" font-family="Liberation Sans" font-size="13.5" fill="#000" stroke="#000" stroke-width="0" text-anchor="end">0</text>
<text transform="translate(46.00,72.60) scale(1.1,1)" font-family="Liberation Sans" font-size="13.5" fill="#000" stroke="#000" stroke-width="0" text-anchor="end">-2</text>
<text transform="translate(46.00,129.50) scale(1.1,1)" font-family="Liberation Sans" font-size="13.5" fill="#000" stroke="#000" stroke-width="0" text-anchor="end">3</text>
<text transform="translate(46.00,156.50) scale(1.1,1)" font-family="Liberation Sans" font-size="13.5" fill="#000" stroke="#000" stroke-width="0" text-anchor="end">0</text>
<text transform="translate(46.00,183.70) scale(1.1,1)" font-family="Liberation Sans" font-size="13.5" fill="#000" stroke="#000" stroke-width="0" text-anchor="end">-3</text>
<text transform="translate(46.00,231.60) scale(1.1,1)" font-family="Liberation Sans" font-size="13.5" fill="#000" stroke="#000" stroke-width="0" text-anchor="end">0.2</text>
<text transform="translate(46.00,259.10) scale(1.1,1)" font-family="Liberation Sans" font-size="13.5" fill="#000" stroke="#000" stroke-width="0" text-anchor="end">0.1</text>
<text transform="translate(46.00,286.40) scale(1.1,1)" font-family="Liberation Sans" font-size="13.5" fill="#000" stroke="#000" stroke-width="0" text-anchor="end">0</text>
<text transform="translate(278.21,231.60) scale(1.1,1)" font-family="Liberation Sans" font-size="13.5" fill="#0000ff" stroke="#0000ff" stroke-width="0">0.2</text>
<text transform="translate(278.21,259.10) scale(1.1,1)" font-family="Liberation Sans" font-size="13.5" fill="#0000ff" stroke="#0000ff" stroke-width="0">0.1</text>
<text transform="translate(278.21,286.40) scale(1.1,1)" font-family="Liberation Sans" font-size="13.5" fill="#0000ff" stroke="#0000ff" stroke-width="0">0</text>
<text transform="translate(116.32,11.77) scale(1.1263,1)" font-family="Liberation Serif" font-style="italic" font-size="15.36" fill="#000" stroke="#000" stroke-width="0.06">U</text>
<text transform="translate(128.54,15.87) scale(1.2903,1)" font-family="Liberation Serif" font-style="normal" font-size="12.47" fill="#000" stroke="#000" stroke-width="0.06">∞</text>
<line x1="147.80" y1="6.40" x2="159.00" y2="6.40" stroke="#222" stroke-width="0.9" />
<line x1="147.80" y1="9.60" x2="159.00" y2="9.60" stroke="#222" stroke-width="0.9" />
<text transform="translate(165.05,11.63) scale(1.0875,1)" font-family="Liberation Serif" font-style="normal" font-size="14.54" fill="#000" stroke="#000" stroke-width="0.06">8</text>
<text transform="translate(363.82,11.77) scale(1.1263,1)" font-family="Liberation Serif" font-style="italic" font-size="15.36" fill="#000" stroke="#000" stroke-width="0.06">U</text>
<text transform="translate(376.04,15.87) scale(1.2903,1)" font-family="Liberation Serif" font-style="normal" font-size="12.47" fill="#000" stroke="#000" stroke-width="0.06">∞</text>
<line x1="395.30" y1="6.40" x2="406.50" y2="6.40" stroke="#222" stroke-width="0.9" />
<line x1="395.30" y1="9.60" x2="406.50" y2="9.60" stroke="#222" stroke-width="0.9" />
<text transform="translate(412.28,11.92) scale(1.2080,1)" font-family="Liberation Serif" font-style="normal" font-size="14.76" fill="#000" stroke="#000" stroke-width="0.06">11</text>
<text transform="translate(175.92,11.92) scale(1.5429,1)" font-family="Liberation Serif" font-style="italic" font-size="13.91" fill="#000" stroke="#000" stroke-width="0.06">m</text>
<text transform="translate(432.61,11.92) scale(1.5653,1)" font-family="Liberation Serif" font-style="italic" font-size="13.91" fill="#000" stroke="#000" stroke-width="0.06">m</text>
<text transform="translate(192.48,15.69) scale(0.7595,1)" font-family="Liberation Serif" font-style="italic" font-size="23.09" fill="#000" stroke="#000" stroke-width="0.06">/</text>
<text transform="translate(449.66,15.69) scale(0.7373,1)" font-family="Liberation Serif" font-style="italic" font-size="23.09" fill="#000" stroke="#000" stroke-width="0.06">/</text>
<text transform="translate(201.11,11.78) scale(1.2666,1)" font-family="Liberation Serif" font-style="italic" font-size="13.62" fill="#000" stroke="#000" stroke-width="0.06">s</text>
<text transform="translate(457.30,11.78) scale(1.3295,1)" font-family="Liberation Serif" font-style="italic" font-size="13.62" fill="#000" stroke="#000" stroke-width="0.06">s</text>
<text transform="translate(148.77,216.05) scale(1.0776,1)" font-family="Liberation Serif" font-style="italic" font-size="16.56" fill="#000" stroke="#000" stroke-width="0.06">t</text>
<text transform="translate(155.96,216.76) scale(0.9176,1)" font-family="Liberation Serif" font-style="normal" font-size="16.93" fill="#000" stroke="#000" stroke-width="0.06">(</text>
<text transform="translate(162.61,216.10) scale(1.4687,1)" font-family="Liberation Serif" font-style="italic" font-size="11.75" fill="#000" stroke="#000" stroke-width="0.06">s</text>
<text transform="translate(170.45,216.76) scale(0.8495,1)" font-family="Liberation Serif" font-style="normal" font-size="16.93" fill="#000" stroke="#000" stroke-width="0.06">)</text>
<text transform="translate(139.05,318.18) scale(1.5862,1)" font-family="Liberation Serif" font-style="italic" font-size="14.50" fill="#000" stroke="#000" stroke-width="0.06">f</text>
<text transform="translate(149.53,319.12) scale(0.9266,1)" font-family="Liberation Serif" font-style="normal" font-size="17.60" fill="#000" stroke="#000" stroke-width="0.06">(</text>
<text transform="translate(156.47,318.72) scale(1.1799,1)" font-family="Liberation Serif" font-style="italic" font-size="15.91" fill="#000" stroke="#000" stroke-width="0.06">H</text>
<text transform="translate(172.37,318.52) scale(1.3057,1)" font-family="Liberation Serif" font-style="italic" font-size="14.22" fill="#000" stroke="#000" stroke-width="0.06">z</text>
<text transform="translate(180.83,319.12) scale(0.8610,1)" font-family="Liberation Serif" font-style="normal" font-size="17.60" fill="#000" stroke="#000" stroke-width="0.06">)</text>
<text transform="translate(400.97,216.05) scale(1.0776,1)" font-family="Liberation Serif" font-style="italic" font-size="16.56" fill="#000" stroke="#000" stroke-width="0.06">t</text>
<text transform="translate(408.16,216.76) scale(0.9176,1)" font-family="Liberation Serif" font-style="normal" font-size="16.93" fill="#000" stroke="#000" stroke-width="0.06">(</text>
<text transform="translate(414.81,216.10) scale(1.4687,1)" font-family="Liberation Serif" font-style="italic" font-size="11.75" fill="#000" stroke="#000" stroke-width="0.06">s</text>
<text transform="translate(422.65,216.76) scale(0.8495,1)" font-family="Liberation Serif" font-style="normal" font-size="16.93" fill="#000" stroke="#000" stroke-width="0.06">)</text>
<text transform="translate(391.25,318.18) scale(1.5862,1)" font-family="Liberation Serif" font-style="italic" font-size="14.50" fill="#000" stroke="#000" stroke-width="0.06">f</text>
<text transform="translate(401.73,319.12) scale(0.9266,1)" font-family="Liberation Serif" font-style="normal" font-size="17.60" fill="#000" stroke="#000" stroke-width="0.06">(</text>
<text transform="translate(408.67,318.72) scale(1.1799,1)" font-family="Liberation Serif" font-style="italic" font-size="15.91" fill="#000" stroke="#000" stroke-width="0.06">H</text>
<text transform="translate(424.57,318.52) scale(1.3057,1)" font-family="Liberation Serif" font-style="italic" font-size="14.22" fill="#000" stroke="#000" stroke-width="0.06">z</text>
<text transform="translate(433.03,319.12) scale(0.8610,1)" font-family="Liberation Serif" font-style="normal" font-size="17.60" fill="#000" stroke="#000" stroke-width="0.06">)</text>
<text transform="translate(21.45,77.17) rotate(-90) scale(0.8244,1)" font-family="Liberation Serif" font-style="italic" font-size="18.27" fill="#000" stroke="#000" stroke-width="0.06">V</text>
<text transform="translate(21.56,65.14) rotate(-90) scale(0.8767,1)" font-family="Liberation Serif" font-style="italic" font-size="15.92" fill="#000" stroke="#000" stroke-width="0.06">o</text>
<text transform="translate(21.82,57.35) rotate(-90) scale(0.7101,1)" font-family="Liberation Serif" font-style="italic" font-size="17.88" fill="#000" stroke="#000" stroke-width="0.06">l</text>
<text transform="translate(21.63,52.60) rotate(-90) scale(0.7634,1)" font-family="Liberation Serif" font-style="italic" font-size="18.84" fill="#000" stroke="#000" stroke-width="0.06">t</text>
<circle cx="20.7" cy="45.3" r="0.85" fill="#000"/>
<text transform="translate(21.64,41.80) rotate(-90) scale(0.6379,1)" font-family="Liberation Serif" font-style="normal" font-size="18.93" fill="#000" stroke="#000" stroke-width="0.06">(</text>
<text transform="translate(21.07,35.85) rotate(-90) scale(0.8265,1)" font-family="Liberation Serif" font-style="italic" font-size="17.67" fill="#000" stroke="#000" stroke-width="0.06">V</text>
<text transform="translate(21.85,23.71) rotate(-90) scale(0.6629,1)" font-family="Liberation Serif" font-style="normal" font-size="19.38" fill="#000" stroke="#000" stroke-width="0.06">)</text>
<text transform="translate(21.72,175.85) rotate(-90) scale(1.0254,1)" font-family="Liberation Serif" font-style="italic" font-size="17.74" fill="#000" stroke="#000" stroke-width="0.06">h</text>
<circle cx="6.0" cy="172.1" r="0.9" fill="#000"/>
<text transform="translate(21.65,166.13) rotate(-90) scale(0.7820,1)" font-family="Liberation Serif" font-style="normal" font-size="19.38" fill="#000" stroke="#000" stroke-width="0.06">(</text>
<text transform="translate(22.02,160.80) rotate(-90) scale(1.1363,1)" font-family="Liberation Serif" font-style="italic" font-size="17.11" fill="#000" stroke="#000" stroke-width="0.06">m</text>
<text transform="translate(24.87,146.12) rotate(-90) scale(0.8186,1)" font-family="Liberation Serif" font-style="normal" font-size="24.61" fill="#000" stroke="#000" stroke-width="0.06">/</text>
<text transform="translate(21.55,138.67) rotate(-90) scale(0.8938,1)" font-family="Liberation Serif" font-style="italic" font-size="16.75" fill="#000" stroke="#000" stroke-width="0.06">s</text>
<text transform="translate(21.75,131.75) rotate(-90) scale(0.7423,1)" font-family="Liberation Serif" font-style="normal" font-size="19.38" fill="#000" stroke="#000" stroke-width="0.06">)</text>
<line x1="0.20" y1="277.30" x2="18.00" y2="277.30" stroke="#000" stroke-width="0.9" />
<line x1="0.20" y1="229.40" x2="18.00" y2="229.40" stroke="#000" stroke-width="0.9" />
<text transform="translate(13.32,273.72) rotate(-90) scale(0.9055,1)" font-family="Liberation Serif" font-style="italic" font-size="18.06" fill="#000" stroke="#000" stroke-width="0.06">F</text>
<text transform="translate(13.32,261.62) rotate(-90) scale(0.9421,1)" font-family="Liberation Serif" font-style="italic" font-size="18.22" fill="#000" stroke="#000" stroke-width="0.06">F</text>
<text transform="translate(13.32,250.82) rotate(-90) scale(1.0207,1)" font-family="Liberation Serif" font-style="italic" font-size="18.22" fill="#000" stroke="#000" stroke-width="0.06">T</text>
<text transform="translate(15.55,240.74) rotate(-90) scale(0.8514,1)" font-family="Liberation Serif" font-style="italic" font-size="11.10" fill="#000" stroke="#000" stroke-width="0.06">V</text>
<line x1="531.40" y1="275.70" x2="548.80" y2="275.70" stroke="#0000ff" stroke-width="0.9" />
<line x1="531.40" y1="230.60" x2="548.80" y2="230.60" stroke="#0000ff" stroke-width="0.9" />
<text transform="translate(544.52,272.92) rotate(-90) scale(0.9412,1)" font-family="Liberation Serif" font-style="italic" font-size="18.06" fill="#0000ff" stroke="#0000ff" stroke-width="0.06">F</text>
<text transform="translate(544.82,260.82) rotate(-90) scale(0.8856,1)" font-family="Liberation Serif" font-style="italic" font-size="18.83" fill="#0000ff" stroke="#0000ff" stroke-width="0.06">F</text>
<text transform="translate(544.82,250.17) rotate(-90) scale(1.0267,1)" font-family="Liberation Serif" font-style="italic" font-size="18.83" fill="#0000ff" stroke="#0000ff" stroke-width="0.06">T</text>
<text transform="translate(550.17,240.16) rotate(-90) scale(1.0503,1)" font-family="Liberation Serif" font-style="italic" font-size="11.65" fill="#0000ff" stroke="#0000ff" stroke-width="0.06">h</text>
<circle cx="539.6" cy="237.8" r="0.8" fill="#0000ff"/>
</svg>
</body></html>
